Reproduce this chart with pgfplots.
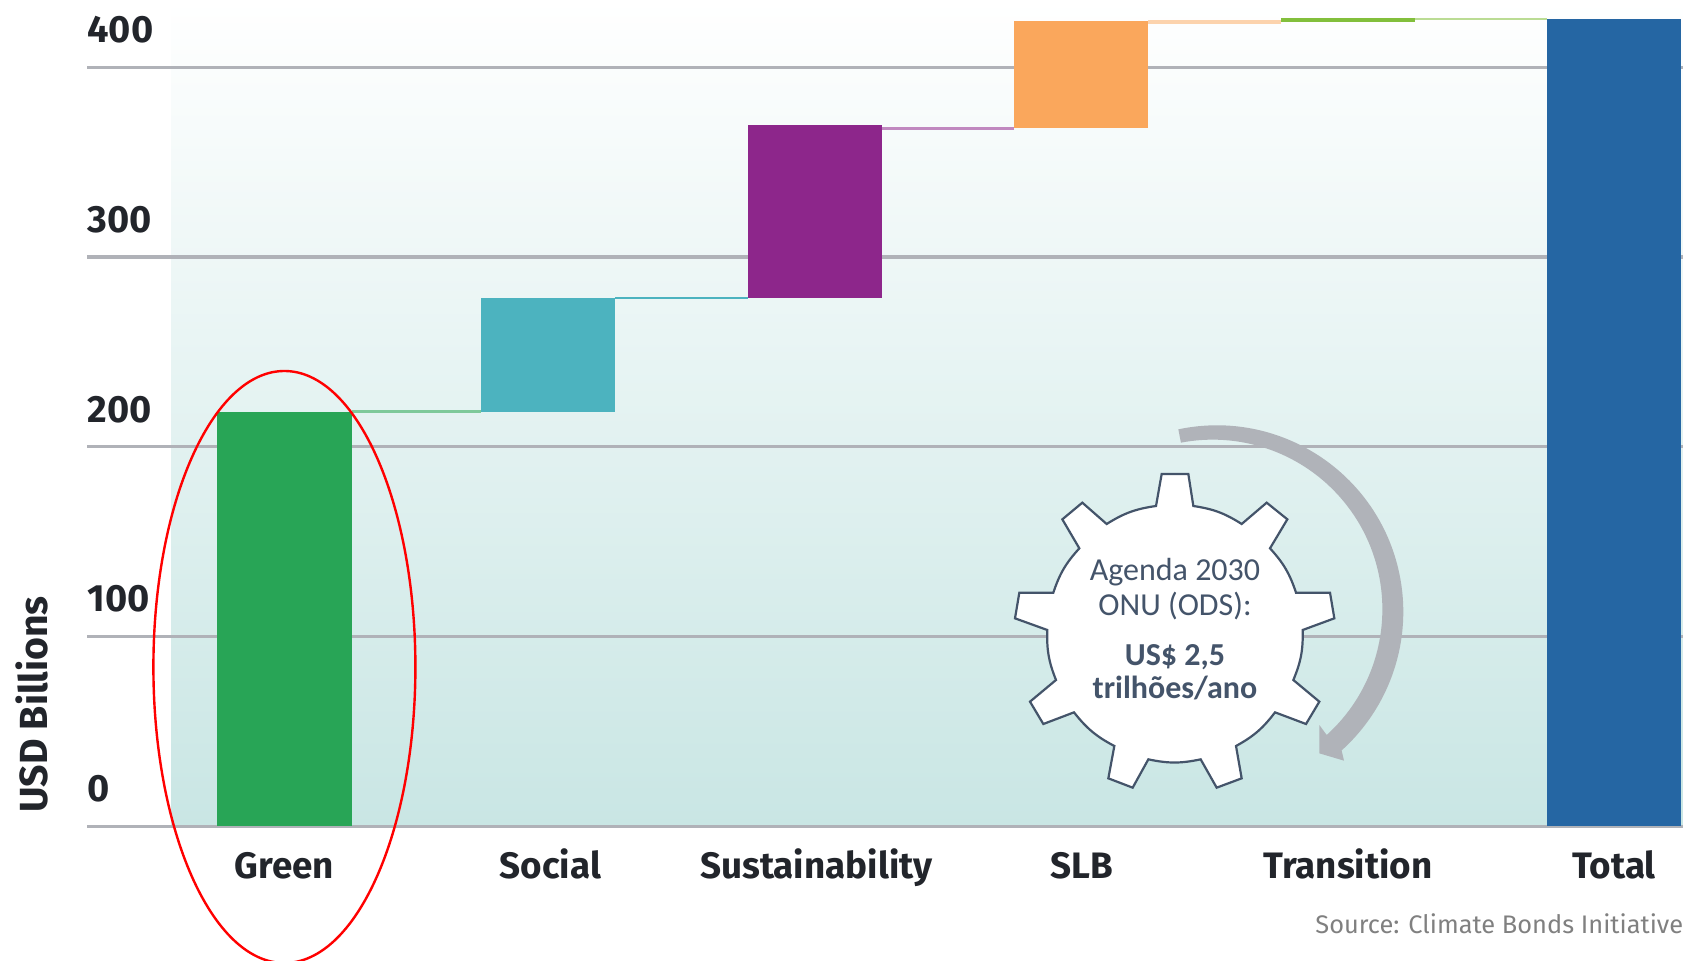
\documentclass[border=0pt]{standalone}
\usepackage{fontspec}
\setmainfont{Fira Sans}
\newfontfamily\gearfont{Carlito}
\usepackage{pgfplots}
\usepackage{pgfplotstable}
\pgfplotsset{compat=1.18}
\definecolor{cgreen}{HTML}{28A556}
\definecolor{cteal}{HTML}{4CB3BF}
\definecolor{cpurple}{HTML}{8D268B}
\definecolor{corange}{HTML}{FAA75C}
\definecolor{clime}{HTML}{82BF3C}
\definecolor{cblue}{HTML}{2566A3}
\definecolor{cgrid}{HTML}{B0B2B8}
\definecolor{ctext}{HTML}{22252B}
\definecolor{cgear}{HTML}{44546A}
\definecolor{carrow}{HTML}{B0B3B9}
\definecolor{cbg}{HTML}{C9E6E4}
\pgfplotstableread{
x base green social sust slb trans total
0     0     218.4 0   0   0    0   0
0.992 218.4 0     60  0   0    0   0
1.996 278.4 0     0   91  0    0   0
2.996 367.8 0     0   0   56.7 0   0
4     423.9 0     0   0   0    1.8 0
5     0     0     0   0   0    0   425.4
}\flows
\pgfplotsset{common/.style={
  scale only axis, width=798pt, height=413.1pt,
  at={(43.5pt,-413.1pt)}, anchor=south west,
  xmin=-0.7428, xmax=5.2595, ymin=0, ymax=435.4}}
\begin{document}
\begin{tikzpicture}
\useasboundingbox (0pt,0pt) rectangle (841.5pt,-480.5pt);
\shade[top color=white, bottom color=cbg] (85.8pt,0pt) rectangle (841.5pt,-413.1pt);
\begin{axis}[common,
  axis line style={draw=none},
  ybar stacked, bar width=67.1pt,
  xtick={0,1,2,3,4,5},
  xticklabels={Green,Social,Sustainability,SLB,Transition,Total},
  ytick={0,100,200,300,400},
  ymajorgrids,
  grid style={cgrid, line width=1.6pt},
  major tick length=0pt,
  /pgf/number format/assume math mode=true,
  tick label style={font=\bfseries\fontsize{18.4}{20}\selectfont, text=ctext, inner sep=0pt},
  xticklabel style={anchor=base, yshift=-26pt},
  yticklabel style={anchor=south west, yshift=11.8pt, font=\bfseries\fontsize{19}{20}\selectfont},
  ylabel={\bfseries\fontsize{19.6}{22}\selectfont USD Billions},
  ylabel style={at={(axis description cs:-0.0250,0.016)}, anchor=base west, inner sep=0pt, text=ctext},
]
\addplot[draw=none, fill=none] table[x=x,y=base] {\flows};
\addplot[draw=none, fill=cgreen] table[x=x,y=green] {\flows};
\addplot[draw=none, fill=cteal] table[x=x,y=social] {\flows};
\addplot[draw=none, fill=cpurple] table[x=x,y=sust] {\flows};
\addplot[draw=none, fill=corange] table[x=x,y=slb] {\flows};
\addplot[draw=none, fill=clime] table[x=x,y=trans] {\flows};
\addplot[draw=none, fill=cblue] table[x=x,y=total] {\flows};
\end{axis}
\begin{axis}[common, hide axis]
\addplot[line width=1.3pt, color=cgreen!60] coordinates {(0.2524,218.4) (0.7396,218.4)};
\addplot[line width=1pt, color=cteal] coordinates {(1.2444,278.4) (1.7436,278.4)};
\addplot[line width=1.3pt, color=cpurple!55] coordinates {(2.2484,367.8) (2.7436,367.8)};
\addplot[line width=2pt, color=corange!50] coordinates {(3.2484,423.8) (3.7476,423.8)};
\addplot[line width=1.4pt, color=clime!55] coordinates {(4.2524,425.4) (4.7476,425.4)};
\end{axis}
% annotations
\draw[red, line width=1.2pt] (142.2pt,-333.5pt) ellipse [x radius=65.5pt, y radius=148pt];
\begin{scope}[shift={(490pt,-200pt)}, x=0.16667pt, y=-0.16667pt]
  \fill[carrow] (595,88) arc[start angle=-101.9, end angle=48, radius=559.5]
    -- (1092,1082) -- (1018,1060) -- (1018,975) -- (1040,1005)
    arc[start angle=47.8, end angle=-100.8, radius=509] -- cycle;
  \draw[fill=white, draw=cgear, line width=1.1pt, line join=miter]
    (528,318) -- (545,222) -- (625,222) -- (640,318)
    to[bend left=12] (785,372) -- (860,308) -- (922,358) -- (870,445)
    to[bend left=12] (948,578) -- (1050,578) -- (1063,655) -- (968,690)
    to[bend left=12] (940,840) -- (1018,905) -- (978,972) -- (885,937)
    to[bend left=12] (768,1038) -- (785,1135) -- (710,1163) -- (662,1078)
    to[bend left=12] (505,1078) -- (458,1163) -- (385,1135) -- (403,1038)
    to[bend left=12] (282,937) -- (190,972) -- (150,905) -- (228,840)
    to[bend left=12] (202,690) -- (105,655) -- (118,578) -- (220,578)
    to[bend left=12] (298,445) -- (247,358) -- (307,308) -- (380,372)
    to[bend left=12] (528,318) -- cycle;
  \node[anchor=base, inner sep=0pt, text=cgear, font=\gearfont\fontsize{16}{18}\selectfont] at (585,540) {Agenda 2030};
  \node[anchor=base, inner sep=0pt, text=cgear, font=\gearfont\fontsize{16}{18}\selectfont] at (585,645) {ONU (ODS):};
  \node[anchor=base, inner sep=0pt, text=cgear, font=\gearfont\bfseries\fontsize{16}{18}\selectfont] at (585,795) {US\$ 2,5};
  \node[anchor=base, inner sep=0pt, text=cgear, font=\gearfont\bfseries\fontsize{16}{18}\selectfont] at (585,895) {trilhões/ano};
\end{scope}
\node[anchor=base west, inner sep=0pt, text=black!50, font=\fontsize{12.7}{14}\selectfont] at (657.5pt,-467pt) {Source: Climate Bonds Initiative};
\end{tikzpicture}
\end{document}
